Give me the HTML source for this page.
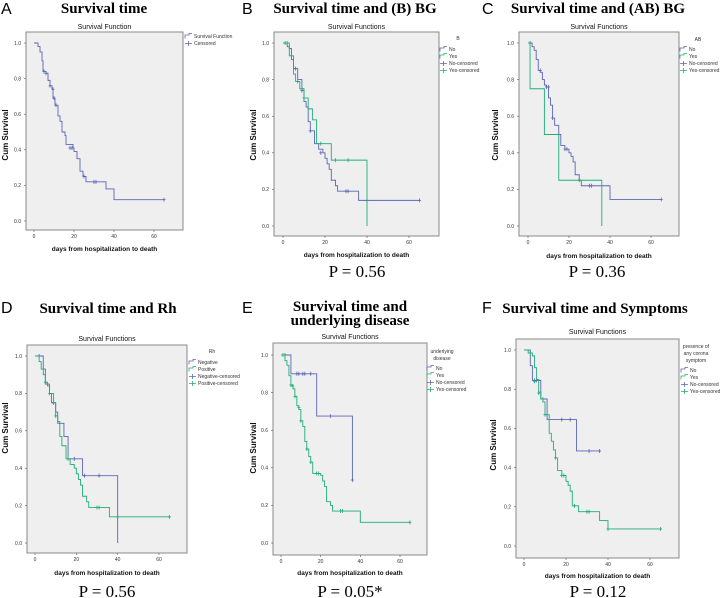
<!DOCTYPE html>
<html><head><meta charset="utf-8"><style>
html,body{margin:0;padding:0;background:#fff;}
svg{display:block;}
.pt{font-family:"Liberation Serif",serif;font-weight:bold;font-size:15px;fill:#000;}
.pl{font-family:"Liberation Sans",sans-serif;font-size:16px;fill:#000;}
.st{font-family:"Liberation Sans",sans-serif;font-size:7px;fill:#111;}
.tk{font-family:"Liberation Sans",sans-serif;font-size:5px;fill:#333;}
.xt{font-family:"Liberation Sans",sans-serif;font-size:6.5px;font-weight:bold;fill:#111;}
.yt{font-family:"Liberation Sans",sans-serif;font-size:8px;font-weight:bold;fill:#111;}
.lg{font-family:"Liberation Sans",sans-serif;font-size:5px;fill:#333;}
.pv{font-family:"Liberation Serif",serif;font-size:17px;fill:#000;}
</style></head><body>
<svg id="fig" width="720" height="598" viewBox="0 0 720 598">
<g>
<text class="pl" x="1" y="14">A</text>
<text class="pt" x="104" y="13" text-anchor="middle">Survival time</text>
<text class="pl" x="242" y="14">B</text>
<text class="pt" x="355" y="13" text-anchor="middle">Survival time and (B) BG</text>
<text class="pl" x="482" y="14">C</text>
<text class="pt" x="598" y="13" text-anchor="middle">Survival time and (AB) BG</text>
<text class="pl" x="1" y="313">D</text>
<text class="pt" x="108" y="313" text-anchor="middle">Survival time and Rh</text>
<text class="pl" x="242" y="313">E</text>
<text class="pt" x="350" y="311" text-anchor="middle">Survival time and</text>
<text class="pt" x="350" y="325" text-anchor="middle">underlying disease</text>
<text class="pl" x="482" y="313">F</text>
<text class="pt" x="595" y="313" text-anchor="middle">Survival time and Symptoms</text>
</g>
<g>
<text class="pv" x="357" y="277" text-anchor="middle">P = 0.56</text>
<text class="pv" x="597" y="277" text-anchor="middle">P = 0.36</text>
<text class="pv" x="107" y="597" text-anchor="middle">P = 0.56</text>
<text class="pv" x="350" y="597" text-anchor="middle">P = 0.05*</text>
<text class="pv" x="598" y="597" text-anchor="middle">P = 0.12</text>
</g>
</svg>
<script>
// Panel A
const aTimes=[2,3,4,4.5,6,7,8,9,9.5,10.5,12,13,14,15.5,16,19.5,20,21.5,23,24.5,26,36,40];
const aSurv=[0.98,0.95,0.90,0.84,0.83,0.79,0.76,0.74,0.69,0.65,0.59,0.56,0.50,0.48,0.43,0.41,0.39,0.35,0.28,0.25,0.22,0.18,0.12];
const aCensT=[5,6,8,9.5,10,11,18,19,25,30,31,65];
const aCensS=[0.84,0.83,0.76,0.74,0.69,0.65,0.41,0.41,0.25,0.22,0.22,0.12];
// Panel B
const bNoTimes=[2,3,4,5,7,9,10,11,12,13,15,17,19,20,21,22,23,25,26,36];
const bNoSurv=[0.98,0.97,0.91,0.86,0.80,0.74,0.68,0.65,0.57,0.52,0.45,0.42,0.40,0.37,0.34,0.31,0.25,0.22,0.19,0.14];
const bNoCensT=[6,9,13,18,30,31,40,65];
const bNoCensS=[0.86,0.74,0.52,0.40,0.19,0.19,0.14,0.14];
const bYesTimes=[3,5,6,8,10,12,14,16,23,40];
const bYesSurv=[0.93,0.83,0.79,0.75,0.70,0.64,0.58,0.45,0.36,0];
const bYesCensT=[1,2,7,9,10,18,25,31];
const bYesCensS=[1,1,0.79,0.75,0.70,0.45,0.36,0.36];
// Panel C
const cNoTimes=[2,3,4,5,6,7,8,9,10,11,12,13,15,16,18,20,21,22,23,25,26,40];
const cNoSurv=[0.98,0.96,0.91,0.85,0.84,0.80,0.77,0.76,0.70,0.66,0.59,0.55,0.50,0.44,0.42,0.40,0.38,0.35,0.28,0.25,0.22,0.145];
const cNoCensT=[1,6,9,10,12,18,19,25,30,31,65];
const cNoCensS=[1,0.85,0.76,0.76,0.59,0.42,0.42,0.25,0.22,0.22,0.145];
const cYesTimes=[1,8,15,36];
const cYesSurv=[0.75,0.5,0.25,0];
const cYesCensT=[];
const cYesCensS=[];
// Panel D
const dNegTimes=[4,5,7,8,10,11,14,16,23,40];
const dNegSurv=[0.93,0.85,0.80,0.75,0.70,0.64,0.57,0.45,0.36,0];
const dNegCensT=[2,6,9,19,24,31];
const dNegCensS=[1,0.85,0.75,0.45,0.36,0.36];
const dPosTimes=[2,3,4,5,6,7,9,10,11,12,13,15,17,19,20,21,22,23,25,26,36];
const dPosSurv=[0.97,0.93,0.90,0.86,0.84,0.80,0.75,0.68,0.65,0.57,0.52,0.45,0.42,0.40,0.37,0.34,0.31,0.25,0.22,0.19,0.14];
const dPosCensT=[5,7,10,16,30,31,40,65];
const dPosCensS=[0.86,0.80,0.68,0.45,0.19,0.19,0.14,0.14];
// Panel E
const eNoTimes=[5,18,36];
const eNoSurv=[0.90,0.675,0.335];
const eNoCensT=[2,8,9,11,12,15,25,36];
const eNoCensS=[1,0.9,0.9,0.9,0.9,0.9,0.675,0.335];
const eYesTimes=[2,3,4,5,6,7,8,9,10,11,12,13,14,15,16,20,21,22,23,25,26,40];
const eYesSurv=[0.97,0.945,0.89,0.84,0.82,0.78,0.73,0.71,0.65,0.62,0.54,0.50,0.46,0.43,0.37,0.36,0.33,0.30,0.22,0.20,0.17,0.11];
const eYesCensT=[1,5,6,7,9,10,13,15,18,19,30,31,65];
const eYesCensS=[1,0.84,0.835,0.78,0.72,0.65,0.50,0.43,0.37,0.37,0.17,0.17,0.11];
// Panel F
const fNoTimes=[3,4,8,11,25];
const fNoSurv=[0.92,0.845,0.75,0.645,0.485];
const fNoCensT=[5,6,18,22,31,36];
const fNoCensS=[0.845,0.845,0.645,0.645,0.485,0.485];
const fYesTimes=[2,4,5,6,7,8,9,10,12,13,14,15,16,18,20,21,22,23,26,36,40];
const fYesSurv=[0.985,0.97,0.91,0.85,0.785,0.75,0.735,0.67,0.575,0.535,0.49,0.45,0.385,0.36,0.33,0.31,0.28,0.205,0.175,0.13,0.087];
const fYesCensT=[3,5,7,9,10,15,18,19,24,30,31,40,65];
const fYesCensS=[0.985,0.84,0.78,0.75,0.67,0.45,0.36,0.36,0.205,0.175,0.175,0.087,0.087];
const xTickLabels=["0","20","40","60"];
const yTickLabels=["0.0","0.2","0.4","0.6","0.8","1.0"];

const NS="http://www.w3.org/2000/svg";
const svg=document.getElementById('fig');
const BLUE="#5d66b3", GREEN="#1fae78";
function mk(tag,attrs,parent){const e=document.createElementNS(NS,tag);for(const k in attrs)e.setAttribute(k,attrs[k]);(parent||svg).appendChild(e);return e;}
function txt(cls,x,y,s,anchor,parent){const t=mk('text',{class:cls,x:x,y:y,'text-anchor':anchor||'start'},parent);t.textContent=s;return t;}

function panel(c){
  const g=mk('g',{});
  
  
  const xs=t=>c.x0+(c.x60-c.x0)*t/60;
  const ys=s=>c.y0+(c.y1-c.y0)*s;
  const box=mk('rect',{x:c.bx0,y:c.by0,width:c.bx1-c.bx0,height:c.by1-c.by0,fill:'#efefef',stroke:'#8a8a8a','stroke-width':1},g);
  
  
  const st=txt('st',(c.bx0+c.bx1)/2,c.titleY,c.sub,'middle',g);
  
  
  xTickLabels.forEach((l,i)=>{
    const x=xs(+l);
    mk('line',{x1:x,x2:x,y1:c.by1,y2:c.by1+2,stroke:'#555','stroke-width':0.6},g);
    const t=txt('tk',x,c.by1+8,l,'middle',g);
    
    
  });
  yTickLabels.forEach((l,i)=>{
    const y=ys(+l);
    mk('line',{x1:c.bx0-2,x2:c.bx0,y1:y,y2:y,stroke:'#555','stroke-width':0.6},g);
    const t=txt('tk',c.bx0-5,y+1.8,l,'end',g);
    
    
  });
  const xt=txt('xt',(c.bx0+c.bx1)/2,c.xTitleY,'days from hospitalization to death','middle',g);
  
  
  const yt=mk('text',{class:'yt',x:0,y:0,'text-anchor':'middle',transform:`translate(${c.yTitleX},${c.yTitleY}) rotate(-90)`},g);
  yt.textContent='Cum Survival';
  
  
  c.series.forEach(s=>{
    let d=`M${xs(0)},${ys(1)}`;
    s.t.forEach((t,i)=>{d+=` H${xs(t)} V${ys(s.s[i])}`;});
    d+=` H${xs(s.end)}`;
    const p=mk('path',{d:d,fill:'none',stroke:s.col,'stroke-width':0.9},g);
    
    
    s.ct.forEach((t,i)=>{
      const x=xs(t),y=ys(s.cs[i]);
      const m=mk('path',{d:`M${x-1.5},${y}H${x+1.5}M${x},${y-2}V${y+2}`,stroke:s.col,'stroke-width':0.8},g);
      
      
    });
  });
  let ly=c.legY;
  c.legTitle.forEach(l=>{const t=txt('lg',c.legTX,ly,l,'middle',g);ly+=7;});
  ly=c.legItemsY;
  c.legend.forEach(it=>{
    const x=c.legX;
    if(it.cens){mk('path',{d:`M${x},${ly-1.5}H${x+7}M${x+3.5},${ly-4}V${ly+1}`,stroke:it.col,'stroke-width':0.8},g);}
    else{mk('path',{d:`M${x},${ly+0.5}V${ly-3}H${x+4}V${ly-4.5}H${x+7}`,fill:'none',stroke:it.col,'stroke-width':0.8},g);}
    const t=txt('lg',x+9,ly,it.label,'start',g);
    
    
    ly+=7;
  });
}
function leg(a,b){return [{label:a,col:BLUE},{label:b,col:GREEN},{label:a+'-censored',col:BLUE,cens:1},{label:b+'-censored',col:GREEN,cens:1}];}

panel({id:'a',bx0:26,by0:32,bx1:183,by1:230,x0:34,x60:154,y1:43,y0:221,titleY:29,sub:'Survival Function',xTitleY:251,yTitleX:8,yTitleY:135,
  series:[{name:'overall',t:aTimes,s:aSurv,ct:aCensT,cs:aCensS,end:65,col:BLUE}],
  legTitle:[],legTX:0,legY:0,legItemsY:38,legX:185,legend:[{label:'Survival Function',col:BLUE},{label:'Censored',col:BLUE,cens:1}]});
panel({id:'b',bx0:274,by0:32,bx1:439,by1:236,x0:283,x60:409,y1:43,y0:226,titleY:29,sub:'Survival Functions',xTitleY:257,yTitleX:256,yTitleY:135,
  series:[{name:'no',t:bNoTimes,s:bNoSurv,ct:bNoCensT,cs:bNoCensS,end:65,col:BLUE},{name:'yes',t:bYesTimes,s:bYesSurv,ct:bYesCensT,cs:bYesCensS,end:40,col:GREEN}],
  legTitle:['B'],legTX:458,legY:40,legItemsY:51,legX:440,legend:leg('No','Yes')});
panel({id:'c',bx0:519,by0:32,bx1:679,by1:236,x0:528,x60:651,y1:43,y0:226,titleY:29,sub:'Survival Functions',xTitleY:258,yTitleX:498,yTitleY:135,
  series:[{name:'no',t:cNoTimes,s:cNoSurv,ct:cNoCensT,cs:cNoCensS,end:65,col:BLUE},{name:'yes',t:cYesTimes,s:cYesSurv,ct:cYesCensT,cs:cYesCensS,end:36,col:GREEN}],
  legTitle:['AB'],legTX:698,legY:41,legItemsY:51,legX:680,legend:leg('No','Yes')});
panel({id:'d',bx0:27,by0:345,bx1:187,by1:553,x0:35,x60:159,y1:356,y0:543,titleY:341,sub:'Survival Functions',xTitleY:575,yTitleX:8,yTitleY:428,
  series:[{name:'negative',t:dNegTimes,s:dNegSurv,ct:dNegCensT,cs:dNegCensS,end:40,col:BLUE},{name:'positive',t:dPosTimes,s:dPosSurv,ct:dPosCensT,cs:dPosCensS,end:65,col:GREEN}],
  legTitle:['Rh'],legTX:212,legY:353,legItemsY:364,legX:189,legend:leg('Negative','Positive')});
panel({id:'e',bx0:273,by0:343,bx1:427,by1:555,x0:281,x60:400,y1:355,y0:543,titleY:339,sub:'Survival Functions',xTitleY:575,yTitleX:256,yTitleY:448,
  series:[{name:'no',t:eNoTimes,s:eNoSurv,ct:eNoCensT,cs:eNoCensS,end:36,col:BLUE},{name:'yes',t:eYesTimes,s:eYesSurv,ct:eYesCensT,cs:eYesCensS,end:65,col:GREEN}],
  legTitle:['underlying','disease'],legTX:442,legY:353,legItemsY:370,legX:427,legend:leg('No','Yes')});
panel({id:'f',bx0:516,by0:339,bx1:679,by1:558,x0:524,x60:650,y1:350,y0:546,titleY:334,sub:'Survival Functions',xTitleY:578,yTitleX:496,yTitleY:445,
  series:[{name:'no',t:fNoTimes,s:fNoSurv,ct:fNoCensT,cs:fNoCensS,end:36,col:BLUE},{name:'yes',t:fYesTimes,s:fYesSurv,ct:fYesCensT,cs:fYesCensS,end:65,col:GREEN}],
  legTitle:['presence of','any corona','symptom'],legTX:696,legY:348,legItemsY:372,legX:681,legend:leg('No','Yes')});
</script>
</body></html>
